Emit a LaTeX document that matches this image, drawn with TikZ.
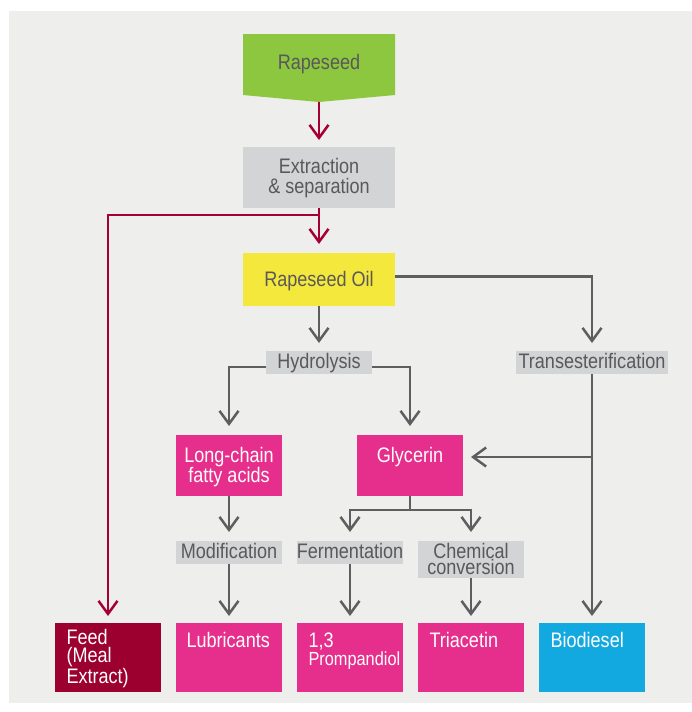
\documentclass[tikz,border=0pt]{standalone}
\usepackage{fontspec}
\setmainfont{Liberation Sans}[FakeStretch=0.86]
\usetikzlibrary{arrows.meta}
\definecolor{bgc}{HTML}{EEEEEC}
\definecolor{greenc}{HTML}{8DC63F}
\definecolor{greyc}{HTML}{D3D4D6}
\definecolor{yellowc}{HTML}{F5E83C}
\definecolor{pinkc}{HTML}{E62E8C}
\definecolor{feedc}{HTML}{9B002F}
\definecolor{redc}{HTML}{A50034}
\definecolor{bluec}{HTML}{12A9E1}
\definecolor{txtc}{HTML}{59595B}
\definecolor{linec}{HTML}{5E5E60}
\begin{document}
\begin{tikzpicture}[x=1pt,y=-1pt,
  box/.style={rectangle,inner sep=0pt,outer sep=0pt,draw=none},
  bigtxt/.style={font=\fontsize{21}{20}\selectfont},
  graytxt/.style={bigtxt,text=txtc},
  whitetxt/.style={bigtxt,text=white},
  lbl/.style={box,fill=greyc,graytxt,minimum height=23pt,minimum width=106pt,text height=15pt,text depth=3pt},
  prod/.style={box,minimum width=106pt,minimum height=69pt},
  mid/.style={box,fill=pinkc,minimum width=106pt,minimum height=61pt},
  tipx/.style={-{Straight Barb[length=13pt,width=19pt]}},
  redline/.style={draw=redc,line width=2.5pt,tipx},
  gline/.style={draw=linec,line width=2.5pt,tipx},
  plainline/.style={draw=linec,line width=2.5pt}
]
\useasboundingbox (0,0) rectangle (692,712);
\fill[bgc] (9,11) rectangle (692,703);

% Rapeseed (pointed box)
\fill[greenc] (243,34) -- (395,34) -- (395,95) -- (319,102) -- (243,95) -- cycle;
\node[graytxt,anchor=base] (rsT) at (319,69) {Rapeseed};
\coordinate (rstip) at (319,102);

% Extraction
\node[box,fill=greyc,minimum width=152pt,minimum height=61pt] (ext) at (319,177.5) {};
\node[graytxt,align=center,anchor=base] (extT) at (319,193) {Extraction\\\& separation};
% Rapeseed Oil
\node[box,fill=yellowc,minimum width=152pt,minimum height=53pt] (oil) at (319,279.5) {};
\node[graytxt,anchor=base] (oilT) at (319,286) {Rapeseed Oil};

% labels
\node[lbl] (hyd) at (319,362.5) {Hydrolysis};
\node[lbl,minimum width=152pt] (trans) at (592,362.5) {Transesterification};

% middle boxes
\node[mid] (lc) at (229,465.5) {};
\node[whitetxt,align=center,anchor=base] (lcT) at (229,482) {Long-chain\\fatty acids};
\node[mid] (gly) at (410,465.5) {};
\node[whitetxt,anchor=base] (glyT) at (410,462) {Glycerin};

\node[lbl] (mod) at (229,552.5) {Modification};
\node[lbl] (ferm) at (350,552.5) {Fermentation};
\node[box,fill=greyc,minimum width=106pt,minimum height=37pt] (chem) at (471,559.5) {};
\node[graytxt,font=\fontsize{21}{16}\selectfont,align=center,anchor=base] (chemT) at (471,574) {Chemical\\conversion};

% products
\node[prod,fill=feedc] (feed) at (108,657.5) {};
\node[prod,fill=pinkc] (lub) at (229,657.5) {};
\node[prod,fill=pinkc] (prom) at (350,657.5) {};
\node[prod,fill=pinkc] (tri) at (471,657.5) {};
\node[prod,fill=bluec] (bio) at (592,657.5) {};
\node[whitetxt,font=\fontsize{21}{18}\selectfont,align=left,anchor=base west] (feedT) at (63,683) {Feed\\(Meal\\Extract)};
\node[whitetxt,anchor=base west] (lubT) at (183,647) {Lubricants};
\node[whitetxt,font=\fontsize{21}{18}\selectfont,align=left,anchor=base west] (promT) at (305,665) {1,3\\{\fontsize{19}{18}\selectfont Prompandiol}};
\node[whitetxt,anchor=base west] (triT) at (426,647) {Triacetin};
\node[whitetxt,anchor=base west] (bioT) at (547,647) {Biodiesel};

% coordinates for junctions
\coordinate (split) at (319,215);
\coordinate (tj) at (592,457);
\coordinate (gsplit) at (410,510);

% red connectors
\draw[redline,shorten >=7pt] (rstip) -- (ext.north);
\draw[redline,shorten >=9pt] (ext.south) -- (oil.north);
\draw[redline,shorten >=7pt] (split) -| (feed.north);

% grey connectors
\draw[gline,shorten >=8pt] (oil.south) -- (hyd.north);
\draw[gline,shorten >=9pt] ([yshift=-4.5pt]hyd.west) -| (lc.north);
\draw[gline,shorten >=9pt] ([yshift=-4.5pt]hyd.east) -| (gly.north);
\draw[gline,shorten >=8pt] ([yshift=3pt]oil.east) -| (trans.north);
\draw[gline,shorten >=7pt] (trans.south) -- (bio.north);
\draw[gline,shorten >=8pt] (tj) -- (tj -| gly.east);
\draw[gline,shorten >=9pt] (lc.south) -- (mod.north);
\draw[gline,shorten >=7pt] (mod.south) -- (lub.north);
\draw[plainline] (gly.south) -- (gsplit);
\draw[gline,shorten >=9pt] (gsplit) -| (ferm.north);
\draw[gline,shorten >=9pt] (gsplit) -| (chem.north);
\draw[gline,shorten >=7pt] (ferm.south) -- (prom.north);
\draw[gline,shorten >=7pt] (chem.south) -- (tri.north);
\end{tikzpicture}
\end{document}
